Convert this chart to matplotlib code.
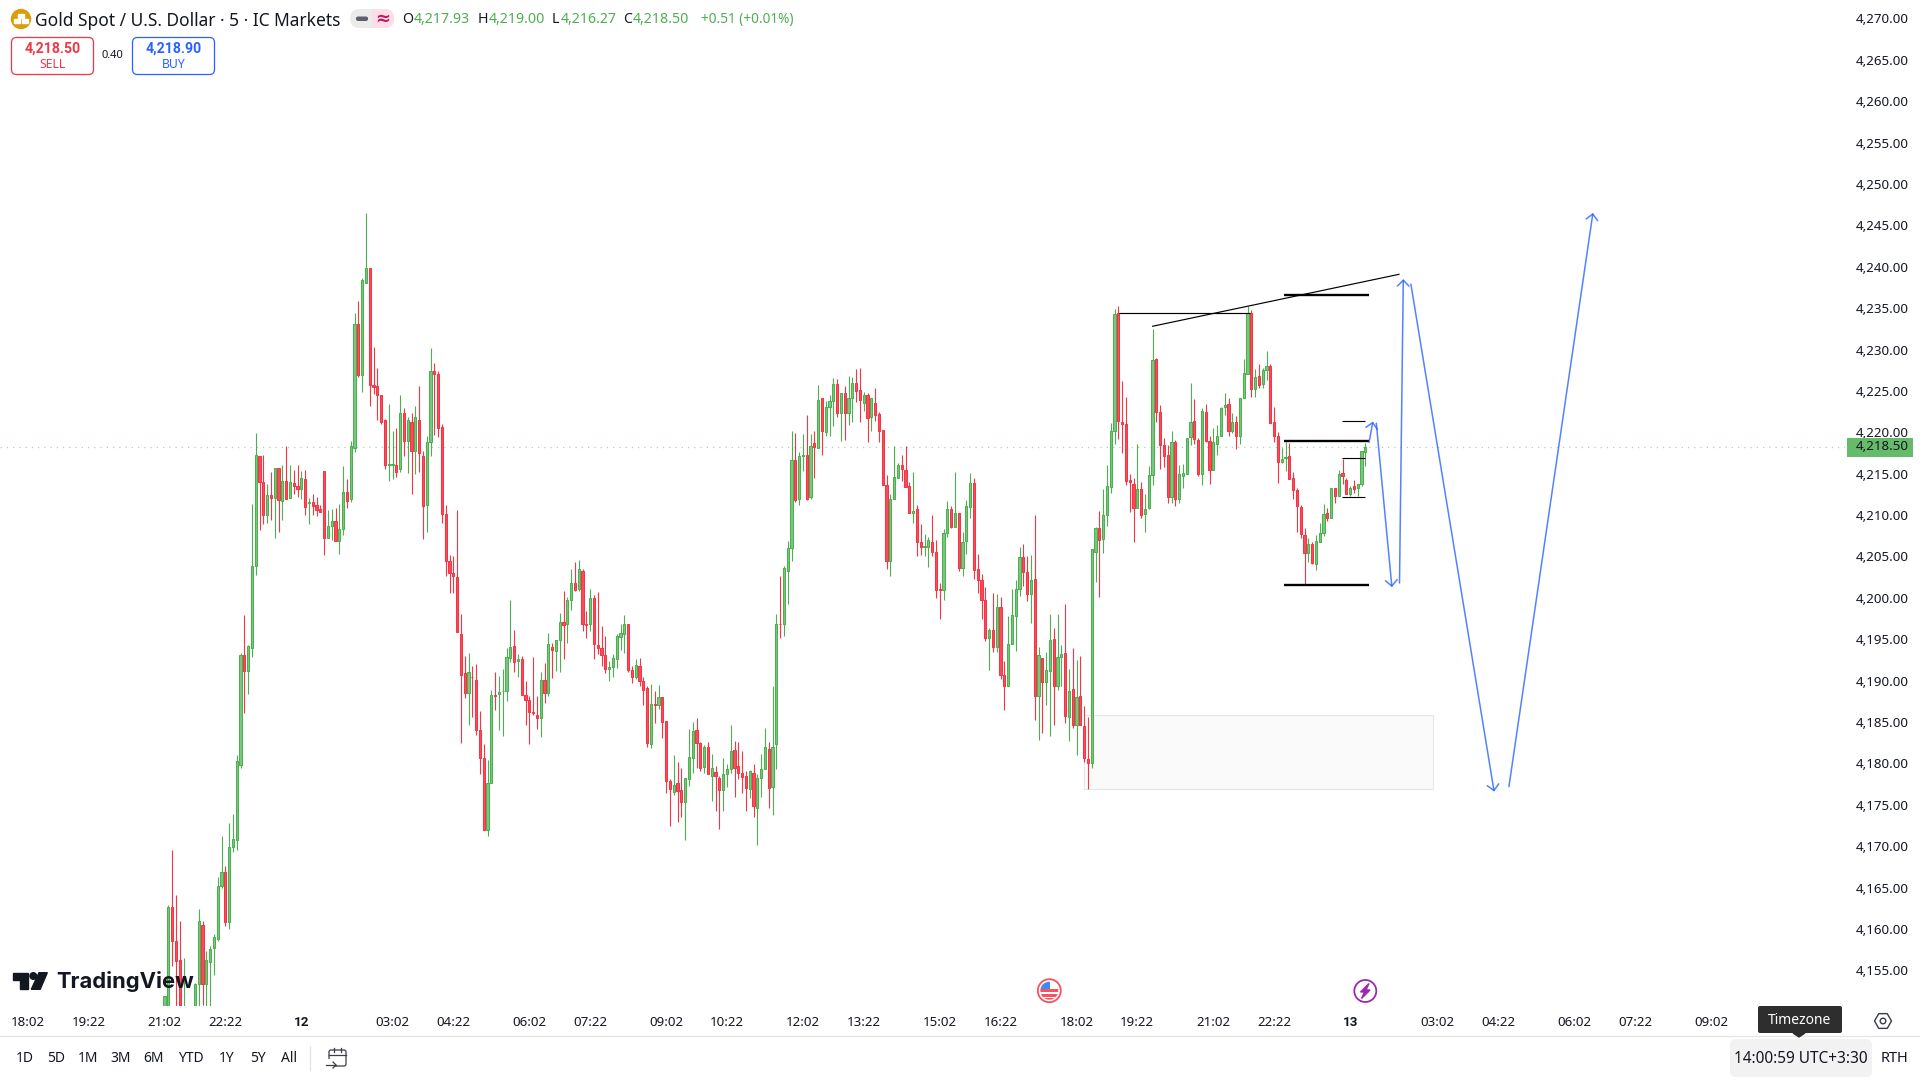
import matplotlib
matplotlib.use("Agg")
import matplotlib.pyplot as plt
from matplotlib.patches import Rectangle, FancyBboxPatch, Circle, Polygon, RegularPolygon
from matplotlib.transforms import ScaledTranslation

plt.rcParams['font.family'] = ['Noto Sans', 'DejaVu Sans']

opens = [
 4146,4150,4163.0,4158.9,4156.6,4146,4149,4146,4149,4153.6,
 4160.8,4153.6,4156.3,4158.0,4159.1,4165.5,4167.2,4161.1,4170.2,4171.1,
 4180.1,4193.4,4191.5,4194.3,4204.1,4217.4,4214.3,4210.3,4212.7,4212.4,
 4216.0,4212.0,4214.4,4212.4,4214.2,4213.8,4213.5,4214.7,4211.8,4211.9,
 4211.5,4211.0,4215.6,4207.5,4209.0,4209.6,4207.2,4208.6,4213.1,4212.2,
 4218.4,4233.4,4227.2,4238.3,4240.2,4226.0,4225.9,4224.8,4221.8,4216.4,
 4216.4,4216.3,4215.9,4222.6,4219.2,4221.5,4218.1,4221.8,4217.4,4211.5,
 4219.1,4227.7,4227.3,4220.9,4210.4,4204.7,4203.3,4202.8,4195.9,4191.2,
 4188.8,4190.8,4190.4,4184.3,4180.9,4172.2,4177.9,4188.6,4188.7,4189.0,
 4189.0,4193.0,4194.5,4192.7,4192.9,4188.6,4188.0,4186.5,4186.1,4185.8,
 4190.4,4188.8,4194.4,4193.9,4195.2,4197.4,4197.1,4200.1,4202.1,4201.4,
 4203.5,4197.1,4197.1,4200.3,4194.6,4194.2,4193.4,4191.7,4192.0,4192.9,
 4195.6,4195.9,4197.1,4191.6,4190.8,4192.1,4190.2,4189.4,4182.6,4187.5,
 4187.3,4188.3,4185.4,4178.2,4176.8,4177.9,4177.1,4175.7,4178.4,4180.9,
 4184.3,4182.8,4179.9,4182.3,4178.8,4179.3,4178.6,4177.1,4179.0,4179.6,
 4181.9,4180.0,4179.2,4178.8,4177.2,4179.2,4174.9,4178.6,4179.6,4182.1,
 4177.4,4182.6,4197.2,4197.1,4203.6,4206.3,4217.0,4212.2,4217.4,4217.5,
 4212.5,4219.0,4218.4,4224.4,4220.3,4223.3,4224.1,4226.1,4222.6,4225.1,
 4222.6,4224.5,4226.3,4225.4,4223.8,4224.8,4222.1,4223.9,4222.5,4220.6,
 4213.9,4204.8,4212.2,4214.8,4216.3,4215.8,4213.8,4210.5,4211.0,4207.0,
 4206.5,4206.4,4207.1,4205.9,4201.4,4201.2,4208.1,4211.0,4208.9,4210.5,
 4203.9,4207.2,4211.3,4214.2,4203.8,4202.4,4200.0,4195.5,4196.4,4194.4,
 4199.2,4191.0,4189.7,4194.7,4198.1,4201.4,4205.2,4203.4,4200.8,4202.6,
 4188.5,4193.0,4190.1,4191.5,4195.3,4189.6,4193.2,4193.6,4185.9,4189.3,
 4185.0,4188.4,4184.8,4180.8,4180.4,4205.9,4208.8,4207.4,4210.3,4213.7,
 4220.5,4234.7,4221.6,4221.3,4214.6,4214.1,4211.2,4213.5,4210.4,4211.2,
 4215.1,4229.1,4222.7,4218.8,4217.5,4212.5,4219.1,4212.3,4215.0,4215.3,
 4219.7,4221.7,4219.4,4215.3,4222.8,4219.3,4215.8,4218.9,4219.9,4223.3,
 4223.7,4220.4,4221.6,4219.9,4224.4,4227.3,4234.7,4225.5,4227.1,4226.1,
 4227.8,4228.3,4221.5,4219.8,4216.7,4217.2,4217.4,4214.8,4213.3,4211.3,
 4207.9,4205.7,4206.8,4204.4,4207.1,4208.1,4210.5,4210.0,4213.6,4212.6,
 4215.4,4214.6,4212.9,4213.8,4213.6,4214.0,4217.93]
highs = [
 4152.2,4163.2,4169.8,4164.4,4161.3,4156.8,4150,4150,4153.8,4162.7,
 4161.3,4157.7,4158.2,4159.7,4166.6,4171.5,4167.9,4173.1,4174.2,4181.3,
 4193.6,4198.2,4194.6,4211.7,4220.2,4217.4,4217.6,4214.0,4215.5,4216.0,
 4216.0,4216.4,4218.6,4216.4,4215.8,4216.4,4215.6,4215.7,4212.4,4212.9,
 4212.5,4211.5,4215.6,4210.9,4211.0,4211.1,4211.7,4216.2,4214.7,4219.2,
 4234.7,4236.2,4239.0,4246.8,4240.2,4230.6,4228.1,4224.8,4221.9,4223.7,
 4220.5,4220.8,4224.8,4223.2,4222.2,4222.6,4223.5,4225.9,4218.1,4219.8,
 4230.5,4228.7,4227.7,4221.3,4211.5,4205.5,4205.4,4210.9,4198.4,4193.3,
 4193.7,4192.1,4192.3,4186.6,4182.6,4180.7,4189.2,4191.4,4190.9,4191.7,
 4194.3,4200.1,4196.4,4193.5,4193.3,4190.3,4188.4,4193.2,4188.5,4191.4,
 4192.4,4196.0,4194.9,4195.2,4198.5,4201.1,4200.4,4203.8,4204.6,4204.9,
 4203.8,4198.7,4201.4,4200.6,4201.0,4196.9,4195.7,4192.7,4193.5,4195.9,
 4197.1,4198.2,4197.2,4192.1,4192.9,4193.0,4190.8,4189.6,4189.9,4189.0,
 4189.8,4188.3,4185.4,4178.4,4181.3,4180.5,4179.8,4178.5,4184.5,4185.3,
 4185.8,4182.9,4182.5,4182.9,4181.5,4180.0,4178.8,4181.0,4180.2,4184.9,
 4183.0,4182.9,4181.8,4179.4,4179.5,4180.2,4179.0,4181.4,4184.6,4182.9,
 4189.6,4198.4,4202.9,4204.2,4207.2,4220.5,4220.2,4217.9,4220.1,4222.4,
 4220.1,4220.4,4226.0,4224.5,4224.1,4224.8,4226.9,4226.7,4225.0,4225.9,
 4227.1,4227.0,4228.0,4228.1,4225.2,4225.0,4224.5,4225.7,4222.8,4220.6,
 4215.2,4212.8,4218.7,4216.6,4217.5,4218.7,4214.3,4215.5,4211.5,4209.2,
 4208.0,4207.7,4210.3,4207.3,4202.1,4208.6,4212.0,4211.4,4215.5,4210.6,
 4208.3,4212.1,4215.4,4214.8,4205.6,4203.2,4201.6,4196.7,4200.9,4200.8,
 4200.4,4192.7,4198.1,4201.4,4202.5,4206.5,4206.8,4205.4,4205.5,4210.3,
 4194.4,4193.0,4193.8,4198.3,4196.7,4198.4,4194.6,4199.5,4191.7,4194.3,
 4192.8,4193.3,4187.2,4185.9,4206.2,4208.9,4210.8,4213.5,4216.3,4221.4,
 4235.2,4235.6,4226.5,4224.6,4215.3,4214.8,4218.9,4214.3,4212.9,4216.2,
 4232.8,4229.3,4223.6,4219.6,4218.8,4220.4,4219.4,4216.4,4216.5,4219.6,
 4226.2,4224.3,4219.6,4223.2,4223.7,4219.8,4220.8,4221.2,4223.4,4225.1,
 4224.5,4222.6,4222.3,4224.4,4229.2,4235.6,4235.1,4227.9,4228.5,4228.1,
 4230.1,4228.5,4223.3,4220.3,4218.4,4219.1,4219.0,4215.5,4213.6,4211.5,
 4208.7,4207.5,4207.1,4207.9,4209.4,4211.7,4211.1,4213.6,4213.6,4215.7,
 4217.1,4214.8,4213.8,4214.6,4214.1,4218.0,4219.0]
lows = [
 4144,4148,4155.8,4150,4147,4144,4144,4144,4147,4149,
 4151.1,4149,4150,4154.8,4158.8,4165.3,4160.7,4160.3,4169.6,4169.9,
 4179.8,4186.4,4188.7,4193.2,4203.1,4208.5,4209.2,4209.3,4209.7,4207.5,
 4208.2,4209.7,4212.2,4212.4,4212.9,4212.5,4212.2,4210.3,4209.2,4210.3,
 4210.2,4210.7,4205.5,4207.5,4207.3,4207.2,4205.6,4207.9,4211.1,4211.9,
 4217.9,4227.0,4225.2,4238.3,4223.5,4224.9,4221.8,4221.3,4215.9,4214.4,
 4214.7,4214.9,4215.5,4217.4,4215.4,4212.9,4215.3,4215.5,4207.4,4208.2,
 4217.4,4220.0,4219.7,4209.3,4202.9,4200.9,4200.9,4196.2,4182.8,4188.2,
 4184.9,4185.9,4183.7,4179.0,4172.3,4171.5,4177.9,4186.7,4184.3,4183.6,
 4187.9,4192.5,4191.4,4190.8,4188.6,4184.9,4182.7,4186.1,4184.5,4183.5,
 4187.6,4188.4,4190.6,4191.5,4191.3,4192.9,4194.8,4198.8,4201.1,4201.1,
 4196.3,4195.5,4196.3,4192.9,4193.5,4192.1,4191.2,4190.3,4190.7,4191.8,
 4194.0,4193.7,4191.3,4190.0,4190.5,4189.6,4187.4,4182.3,4182.2,4185.2,
 4186.9,4183.4,4176.7,4172.8,4176.5,4173.2,4173.8,4171.0,4177.6,4179.1,
 4179.8,4179.4,4179.2,4179.0,4175.8,4174.5,4172.4,4174.5,4177.4,4179.2,
 4176.3,4178.4,4176.7,4174.5,4176.1,4173.8,4170.5,4176.3,4179.6,4174.9,
 4174.1,4179.6,4195.4,4195.7,4199.6,4204.8,4211.9,4211.5,4215.6,4212.1,
 4212.2,4214.8,4218.4,4217.5,4219.9,4219.8,4221.1,4222.2,4219.2,4219.4,
 4221.2,4221.6,4224.0,4221.6,4222.9,4219.1,4220.4,4221.7,4219.1,4213.9,
 4203.8,4202.9,4212.2,4214.8,4214.4,4213.7,4210.6,4209.4,4205.3,4205.5,
 4205.3,4204.0,4205.4,4200.3,4197.8,4200.0,4207.7,4208.7,4208.9,4203.6,
 4202.9,4205.6,4210.0,4202.6,4200.9,4197.7,4195.1,4191.6,4193.8,4193.8,
 4190.5,4186.7,4189.7,4194.7,4193.9,4200.5,4201.7,4199.9,4197.3,4185.6,
 4183.1,4184.0,4187.4,4183.6,4185.0,4189.2,4189.7,4185.2,4183.0,4184.6,
 4181.3,4185.0,4180.5,4177.2,4179.7,4202.2,4200.4,4205.7,4209.0,4213.0,
 4218.9,4219.5,4217.8,4213.9,4210.7,4207.1,4211.2,4209.9,4208.2,4211.0,
 4213.9,4221.5,4215.9,4216.1,4211.8,4211.8,4211.4,4211.8,4213.6,4215.3,
 4218.8,4218.9,4215.0,4213.9,4219.1,4214.0,4215.8,4217.5,4219.9,4222.4,
 4219.9,4220.2,4218.3,4218.9,4224.4,4227.3,4224.6,4224.6,4225.6,4225.6,
 4226.6,4221.4,4219.1,4214.2,4216.6,4215.6,4214.7,4212.3,4208.3,4207.5,
 4202.0,4204.6,4204.4,4203.7,4207.1,4207.8,4209.6,4210.0,4211.8,4212.6,
 4214.0,4212.9,4212.6,4213.0,4212.6,4213.8,4216.27]
closes = [
 4152.2,4163.0,4158.8,4156.4,4148,4151,4146,4149,4153.6,4161.3,
 4153.6,4156.6,4157.9,4159.3,4165.5,4167.2,4161.1,4170.2,4171.2,4180.6,
 4193.4,4191.5,4194.5,4204.1,4217.6,4214.3,4210.3,4212.7,4212.4,4216.0,
 4212.1,4214.4,4212.2,4214.3,4213.8,4213.5,4214.8,4211.3,4211.9,4211.4,
 4210.9,4210.7,4207.5,4209.0,4209.6,4207.2,4208.6,4213.1,4212.0,4218.7,
 4233.4,4227.2,4238.7,4240.2,4226.0,4225.8,4224.8,4221.6,4216.3,4216.5,
 4216.5,4215.5,4222.6,4219.2,4221.8,4218.1,4222.1,4217.8,4211.4,4219.1,
 4227.7,4227.4,4220.8,4210.4,4204.7,4203.3,4202.9,4196.2,4191.0,4188.8,
 4191.3,4190.7,4184.3,4180.9,4172.3,4177.9,4188.6,4188.5,4188.9,4189.1,
 4193.2,4194.4,4192.6,4192.9,4188.6,4188.0,4186.5,4186.4,4185.8,4190.4,
 4188.8,4194.7,4194.0,4195.2,4197.4,4197.0,4200.1,4202.1,4201.3,4203.8,
 4197.1,4197.0,4200.3,4194.7,4194.2,4193.4,4191.7,4192.0,4193.0,4195.7,
 4196.0,4197.2,4191.6,4190.8,4192.2,4190.2,4189.2,4182.8,4187.5,4187.4,
 4188.3,4185.3,4178.2,4177.2,4177.7,4177.0,4175.7,4178.5,4181.1,4184.2,
 4182.8,4179.7,4182.3,4179.0,4179.7,4178.8,4177.1,4179.0,4179.6,4181.8,
 4179.8,4179.1,4178.7,4177.3,4179.4,4175.1,4178.5,4179.6,4182.3,4177.3,
 4182.3,4197.1,4197.1,4203.9,4206.3,4216.9,4212.1,4217.4,4217.5,4212.3,
 4218.7,4218.5,4224.2,4220.4,4223.4,4224.1,4226.1,4222.6,4225.0,4222.6,
 4224.5,4226.3,4225.3,4224.2,4224.8,4222.0,4224.4,4222.4,4220.4,4213.9,
 4204.7,4212.3,4214.9,4216.3,4215.9,4213.7,4210.6,4210.8,4207.1,4206.4,
 4206.6,4207.3,4205.9,4201.3,4201.3,4208.1,4211.0,4208.9,4210.5,4203.9,
 4207.1,4211.4,4214.2,4203.7,4202.5,4200.0,4195.5,4196.4,4194.4,4199.2,
 4191.0,4189.6,4194.7,4198.2,4201.4,4205.2,4203.4,4200.8,4202.5,4188.5,
 4193.4,4190.1,4191.6,4195.2,4189.7,4193.1,4193.5,4186.0,4189.1,4185.0,
 4188.3,4185.0,4180.9,4180.3,4206.2,4208.7,4207.3,4210.3,4213.8,4220.4,
 4234.6,4221.7,4221.3,4214.4,4214.3,4211.2,4213.4,4210.3,4211.0,4215.2,
 4229.0,4222.7,4218.8,4217.4,4212.5,4219.1,4212.3,4215.3,4215.4,4219.6,
 4221.6,4219.5,4215.3,4222.9,4219.2,4215.8,4219.1,4219.9,4223.2,4223.6,
 4220.5,4221.6,4219.9,4224.4,4227.5,4234.7,4225.5,4227.0,4226.0,4227.8,
 4228.3,4221.4,4219.8,4216.7,4217.1,4217.3,4214.7,4213.3,4211.4,4208.0,
 4205.7,4206.8,4204.5,4207.2,4208.1,4210.4,4210.0,4213.6,4212.6,4215.3,
 4215.0,4212.9,4213.6,4213.5,4214.1,4218.0,4218.5]

time_tick_bars = [-36,-20,0,16,36,60,76,96,112,132,148,168,184,204,220,240,256,276,292,312,335,351,371,387,407]
time_tick_labels = ["18:02","19:22","21:02","22:22","12","03:02","04:22","06:02","07:22","09:02","10:22",
                    "12:02","13:22","15:02","16:22","18:02","19:22","21:02","22:22","13","03:02","04:22",
                    "06:02","07:22","09:02"]
price_ticks = list(range(4155, 4271, 5))
last_price = 4218.5

zone_bars = [242, 333.8]
zone_prices = [4177.2, 4186.2]
# black drawings: bar0, price0, bar1, price1, line width
black_lines = [
    (251.3, 4234.7, 285.7, 4234.7, 0.85),
    (259.9, 4233.1, 325.0, 4239.4, 0.85),
    (294.6, 4236.85, 317.05, 4236.85, 1.7),
    (294.6, 4219.2, 317.05, 4219.2, 1.7),
    (294.6, 4201.9, 317.05, 4201.9, 1.7),
    (309.8, 4221.7, 316.0, 4221.7, 0.8),
    (309.8, 4217.15, 316.0, 4217.15, 0.8),
    (309.8, 4212.5, 316.0, 4212.5, 0.8),
]
# blue projected path arrows: bar0, price0, bar1, price1
blue_arrows = [
    (317.0, 4219.1, 318.0, 4221.6),
    (318.9, 4221.4, 323.0, 4201.6),
    (325.0, 4202.1, 326.0, 4238.8),
    (328.0, 4238.2, 349.9, 4176.9),
    (353.8, 4177.5, 375.9, 4246.8),
]

W, H = 1920, 1080
PANE_R, PANE_B = 1845, 1006
BAR0_PX, BAR_PX = 164.5, 3.8
PX_PER_PT, Y4270 = 8.278, 20.9
LABEL_LIFT_PX = 2.5

fig = plt.figure(figsize=(19.2, 10.8), dpi=100, facecolor='white')
ax = fig.add_axes([0, 1 - PANE_B / H, PANE_R / W, PANE_B / H])
ax.set_xlim(-BAR0_PX / BAR_PX, (PANE_R - BAR0_PX) / BAR_PX)
ax.set_ylim(4270 - (PANE_B - Y4270) / PX_PER_PT, 4270 + Y4270 / PX_PER_PT)
for s in ax.spines.values():
    s.set_visible(False)

GREEN, RED = '#4CAF50', '#F23645'
GREEN_F, RED_F = '#7CC680', '#FF4A5C'
idx = list(range(len(opens)))
up = [c >= o for o, c in zip(opens, closes)]
ax.vlines(idx, lows, highs, colors=[GREEN if u else RED for u in up], lw=0.8, zorder=3)
ax.bar(idx, [abs(c - o) for o, c in zip(opens, closes)], bottom=[min(o, c) for o, c in zip(opens, closes)],
       width=0.55, color=[GREEN_F if u else RED_F for u in up],
       edgecolor=[GREEN if u else RED for u in up], linewidth=0.75, zorder=4)

ax.axhline(last_price, color='#A5D6A7', lw=0.9, ls=(0, (1, 4)), zorder=1)
ax.add_patch(Rectangle((zone_bars[0], zone_prices[0]), zone_bars[1] - zone_bars[0], zone_prices[1] - zone_prices[0],
                       facecolor='#FAFAFA', edgecolor='#E6E6E6', lw=0.8, zorder=2))
for b0, p0, b1, p1, lw in black_lines:
    ax.plot([b0, b1], [p0, p1], color='black', lw=lw, solid_capstyle='butt', zorder=5)
for b0, p0, b1, p1 in blue_arrows:
    ax.annotate('', xy=(b1, p1), xytext=(b0, p0), zorder=6,
                arrowprops=dict(arrowstyle='->,head_length=0.42,head_width=0.42', color='#2962FF', alpha=0.8,
                                lw=1.1, mutation_scale=10, shrinkA=0, shrinkB=0))

ax.yaxis.tick_right()
ax.set_yticks(price_ticks)
ax.set_yticklabels([f"{p:,.2f}" for p in price_ticks], fontsize=9.6, color='#131722')
ax.tick_params(axis='y', length=0, pad=8)
lift = ScaledTranslation(0, LABEL_LIFT_PX / 100, fig.dpi_scale_trans)
for lab in ax.get_yticklabels():
    lab.set_transform(lab.get_transform() + lift)
ax.set_xticks(time_tick_bars)
ax.set_xticklabels(time_tick_labels, fontsize=9.6, color='#131722')
for lab, t in zip(ax.get_xticklabels(), time_tick_labels):
    if len(t) == 2:
        lab.set_family(['Roboto', 'DejaVu Sans'])
        lab.set_fontweight('bold')
ax.tick_params(axis='x', length=0, pad=7)

# interface layer in pixel space
ui = fig.add_axes([0, 0, 1, 1], facecolor='none')
ui.set_xlim(0, W)
ui.set_ylim(H, 0)
ui.axis('off')

def txt(x, y, s, size=10, color='#131722', ha='left', **kw):
    ui.text(x, y, s, fontsize=size, color=color, ha=ha, va='center', **kw)

# header
ui.add_patch(Circle((21, 19), 9.5, color='#DB9D0B'))
ui.add_patch(Rectangle((18, 13.5), 6, 4, color='white'))
ui.add_patch(Rectangle((14, 19), 6, 4, color='white'))
ui.add_patch(Rectangle((22, 19), 6, 4, color='white'))
txt(35, 20.5, "Gold Spot / U.S. Dollar · 5 · IC Markets", size=12.5)
ui.add_patch(FancyBboxPatch((350, 9), 44, 19, boxstyle="round,pad=0,rounding_size=9.5", fc='#EBEBEB', ec='none'))
ui.add_patch(FancyBboxPatch((372, 9), 22, 19, boxstyle="round,pad=0,rounding_size=9.5", fc='#FCDDE8', ec='none'))
ui.add_patch(Rectangle((372, 9), 10, 19, fc='#FCDDE8', ec='none'))
ui.add_patch(FancyBboxPatch((356, 16.5), 12, 4.5, boxstyle="round,pad=0,rounding_size=2", fc='#5D606B', ec='none'))
txt(383, 18.5, "≈", size=13, color='#C2185B', ha='center', fontweight='bold')
GV = '#4CAF50'
for x, s, c, sz in [(402, "O", '#131722', 10.2), (414, "4,217.93", GV, 10.2), (478, "H", '#131722', 10.2), (489, "4,219.00", GV, 10.2),
                    (552, "L", '#131722', 10.2), (561, "4,216.27", GV, 10.2), (623, "C", '#131722', 10.2), (633, "4,218.50", GV, 10.2),
                    (701, "+0.51 (+0.01%)", GV, 9.8)]:
    txt(x, 19.5, s, size=sz, color=c)

BOLD = ['Roboto', 'DejaVu Sans']
for x0, x1, col, price, lab in [(11.5, 93.5, '#F23645', "4,218.50", "SELL"), (132.5, 214.5, '#2962FF', "4,218.90", "BUY")]:
    ui.add_patch(FancyBboxPatch((x0, 37.5), x1 - x0, 37, boxstyle="round,pad=0,rounding_size=5", fc='white', ec=col, lw=0.9))
    txt((x0 + x1) / 2, 49, price, size=10.2, color=col, ha='center', fontweight='bold', family=BOLD)
    txt((x0 + x1) / 2, 64, lab, size=8.8, color=col, ha='center')
txt(112, 56, "0.40", size=8, ha='center')

# logo
ui.add_patch(Polygon([(13.3, 972.7), (28.3, 972.7), (28.3, 989.3), (19.8, 989.3), (19.8, 979.8), (13.3, 979.8)], color='#131722'))
ui.add_patch(Circle((33.3, 976), 3.3, color='#131722'))
ui.add_patch(Polygon([(39, 972.7), (47.3, 972.7), (40.2, 989.3), (31.3, 989.3)], color='#131722'))
txt(56, 981, "TradingView", size=15.8, family=['Inter', 'DejaVu Sans'], fontweight='bold', zorder=8)

# event icons
ui.add_patch(Circle((1049.3, 990.7), 11.5, fc='white', ec='#F7525F', lw=1.3))
flag = Circle((1049.3, 990.7), 9, transform=ui.transData)
for y, h, c in [(982, 18, 'white'), (989, 2.5, '#F7525F'), (994, 2.5, '#F7525F'), (998, 2, '#F7525F')]:
    r = Rectangle((1040, y), 19, h, fc=c, ec='none')
    ui.add_patch(r)
    r.set_clip_path(flag)
r = Rectangle((1040, 981), 10, 8, fc='#3D8BF5', ec='none')
ui.add_patch(r)
r.set_clip_path(flag)
ui.add_patch(Circle((1365.3, 991), 11, fc='white', ec='#9C27B0', lw=1.3))
ui.add_patch(Polygon([(1369, 983.5), (1360.5, 992), (1364.5, 992), (1361.5, 998.5), (1370, 990), (1366, 990)], color='#9C27B0'))

# current price tag
ui.add_patch(Rectangle((1847, 438), 66, 18.5, fc='#66BB6A', ec='none'))
txt(1856, 446.5, "4,218.50", size=9.6)

# bottom bar
ui.plot([0, W], [1036, 1036], color='#E6E6E6', lw=0.9)
for x, s in [(25, "1D"), (56, "5D"), (88, "1M"), (121, "3M"), (154, "6M"), (191, "YTD"), (227, "1Y"), (258, "5Y"), (289, "All")]:
    txt(x, 1059, s, size=10, ha='center')
ui.plot([310, 310], [1046, 1070], color='#E0E3EB', lw=0.9)
ic = '#3A3D46'
ui.add_patch(FancyBboxPatch((329, 1050), 17, 16, boxstyle="round,pad=0,rounding_size=2", fc='white', ec=ic, lw=0.9))
ui.add_patch(Rectangle((325, 1059), 9, 8, fc='white', ec='none'))
ui.plot([329, 346], [1054.5, 1054.5], color=ic, lw=0.9)
ui.plot([334, 334], [1048, 1052], color=ic, lw=0.9)
ui.plot([341, 341], [1048, 1052], color=ic, lw=0.9)
ui.plot([326, 336], [1065, 1065], color=ic, lw=0.9)
ui.plot([333, 336, 333], [1062, 1065, 1068], color=ic, lw=0.9)

ui.add_patch(FancyBboxPatch((1730, 1039), 142, 38, boxstyle="round,pad=0,rounding_size=6", fc='#F2F2F2', ec='none'))
txt(1801, 1059, "14:00:59 UTC+3:30", size=11.1, ha='center')
txt(1895, 1059, "RTH", size=10.5, ha='center')

ui.add_patch(FancyBboxPatch((1758, 1006), 84, 27, boxstyle="round,pad=0,rounding_size=2", fc='#2E2E2E', ec='none', zorder=9))
ui.add_patch(Polygon([(1793, 1033), (1805, 1033), (1799, 1037)], color='#2E2E2E', zorder=9))
txt(1800, 1020.5, "Timezone", size=10, color='white', ha='center', zorder=10)

ui.add_patch(RegularPolygon((1883, 1021), 6, radius=8.5, orientation=3.14159 / 2, fc='none', ec=ic, lw=1))
ui.add_patch(Circle((1883, 1021), 2.8, fc='none', ec=ic, lw=1))

fig.savefig("out.png", dpi=100, facecolor='white')
